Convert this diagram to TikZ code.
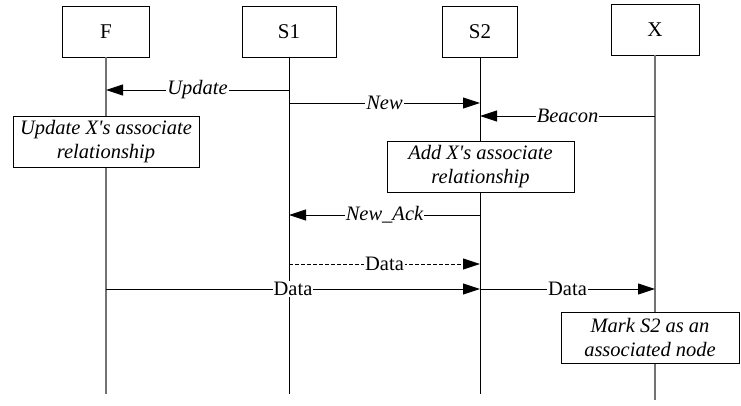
\documentclass[tikz,border=0pt]{standalone}
\usepackage{fontspec}
\setmainfont{Liberation Serif}[Ligatures=TeXOff]
\usetikzlibrary{arrows.meta,calc}

\begin{document}
\begin{tikzpicture}[x=1pt,y=-1pt,
  font=\fontsize{21}{24}\selectfont,
  headbox/.style={draw,line width=0.9pt,fill=white,minimum height=51pt,inner sep=0pt},
  lifeblack/.style={line width=0.9pt,black},
  lifegray/.style={line width=1.4pt,black!55},
  actbox/.style={draw,line width=0.9pt,fill=white,align=center,font=\fontsize{20.5}{24.5}\selectfont\itshape,inner sep=0pt,minimum height=51pt},
  msg/.style={line width=0.9pt,-{Triangle[length=17pt,width=11pt]}},
  dmsg/.style={msg,dash pattern=on 4pt off 2pt},
  lbl/.style={fill=white,inner sep=1pt,font=\fontsize{20.5}{23}\selectfont\itshape},
  lblup/.style={fill=white,inner sep=1pt,font=\fontsize{20.5}{23}\selectfont}]
\useasboundingbox (0,0) rectangle (741,405);

% lifeline heads
\node[headbox,minimum width=87pt] (F)  at (106,31.5) {F};
\node[headbox,minimum width=94pt] (S1) at (289,31.5) {S1};
\node[headbox,minimum width=75pt] (S2) at (480,31.5) {S2};
\node[headbox,minimum width=88pt] (X)  at (655,29.5) {X};

% lifeline ends
\coordinate (Fe)  at (106,394);
\coordinate (S1e) at (289,394);
\coordinate (S2e) at (480,394);
\coordinate (Xe)  at (655,400);

\draw[lifegray]  (F.south)  -- (Fe);
\draw[lifeblack] (S1.south) -- (S1e);
\draw[lifeblack] (S2.south) -- (S2e);
\draw[lifegray]  (X.south)  -- (Xe);

% message rows
\coordinate (yUpd) at (0,90);
\coordinate (yNew) at (0,103);
\coordinate (yBea) at (0,116);
\coordinate (yAck) at (0,215);
\coordinate (yDd)  at (0,264);
\coordinate (yDat) at (0,289);

% messages
\draw[msg] (S1 |- yUpd) -- node[lbl] {Update} (F |- yUpd);
\draw[msg] (S1 |- yNew) -- node[lbl] {New} (S2 |- yNew);
\draw[msg] (X |- yBea) -- node[lbl] {Beacon} (S2 |- yBea);
\draw[msg] (S2 |- yAck) -- node[lbl] {New\_Ack} (S1 |- yAck);
\draw[dmsg] (S1 |- yDd) -- node[lblup] {Data} (S2 |- yDd);
\draw[msg] (F |- yDat) -- node[lblup] {Data} (S2 |- yDat);
\draw[msg] (S2 |- yDat) -- node[lblup] {Data} (X |- yDat);

% actions
\node[actbox,minimum width=186pt] (actF)  at (106,141.5) {Update X's associate\\relationship};
\node[actbox,minimum width=187pt] (actS2) at (480.5,166.5) {Add X's associate\\relationship};
\node[actbox,minimum width=178pt] (actX)  at (650,337.5) {Mark S2 as an\\associated node};
\end{tikzpicture}
\end{document}
